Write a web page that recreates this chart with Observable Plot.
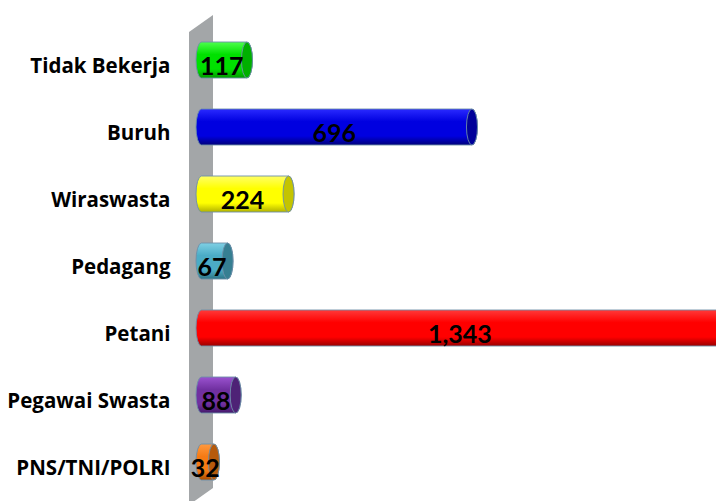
<!DOCTYPE html>
<html><head><meta charset="utf-8">
<script src="https://cdn.jsdelivr.net/npm/d3@7"></script>
<script src="https://cdn.jsdelivr.net/npm/@observablehq/plot@0.6"></script>
<style>html,body{margin:0;padding:0;background:#fff;overflow:hidden}</style>
</head><body><div id="chart"></div>
<script>
const categories = ["Tidak Bekerja","Buruh","Wiraswasta","Pedagang","Petani","Pegawai Swasta","PNS/TNI/POLRI"];
const values = [117, 696, 224, 67, 1343, 88, 32];
const topColors = ["#4dff4d","#2a2aff","#ffff66","#7fd0e4","#ff3a3a","#9a52cf","#ff9a40"];
const midColors = ["#00e000","#0000e0","#ffff00","#4bacc6","#ff0000","#7030a0","#f57a14"];
const bottomColors = ["#009a00","#00007a","#b3b300","#2c7486","#9a0000","#44196a","#a84c00"];
const capColors = ["#00b000","#000099","#c4c400","#367f92","#b00000","#4e2276","#b65a0c"];

const data = categories.map((c, i) => ({category: c, value: values[i], idx: i}));
const fmt = d3.format(",");

function decor(index, scales, values, dimensions) {
  const g = d3.create("svg:g");
  const defs = g.append("defs");
  categories.forEach((c, i) => {
    const lg = defs.append("linearGradient").attr("id", "grad" + i)
      .attr("x1", 0).attr("y1", 0).attr("x2", 0).attr("y2", 1);
    lg.append("stop").attr("offset", "0").attr("stop-color", topColors[i]);
    lg.append("stop").attr("offset", "0.35").attr("stop-color", midColors[i]);
    lg.append("stop").attr("offset", "0.75").attr("stop-color", midColors[i]);
    lg.append("stop").attr("offset", "1").attr("stop-color", bottomColors[i]);
  });
  const x0 = scales && scales.x ? scales.x(0) : dimensions.marginLeft;
  const l = x0 - 12.5, r = x0 + 11.5;
  g.append("polygon")
    .attr("points", `${l},32 ${r},15 ${r},488 ${l},505`)
    .attr("fill", "#a3a6a8");
  return g.node();
}

const plot = Plot.plot({
  width: 716, height: 501,
  marginLeft: 201.5, marginRight: 0, marginTop: 40, marginBottom: 18,
  x: {domain: [0, 1324], axis: null},
  y: {domain: categories, paddingInner: 0.46, paddingOuter: 0, axis: null},
  color: {type: "identity"},
  style: {fontFamily: "Lato, 'Open Sans', sans-serif", fontWeight: "bold", background: "#fff", overflow: "hidden"},
  marks: [
    decor,
    Plot.text(data, {y: "category", x: 0, dx: -31.5, dy: 6, textAnchor: "end", text: "category", fontSize: 20.5, fontWeight: "bold", fontFamily: "'Open Sans', sans-serif", fill: "#000"}),
    Plot.barX(data, {y: "category", x1: 0, x2: "value", insetLeft: -5.5, insetRight: -5.5, rx: 5.5, ry: 18.5,
      fill: d => `url(#grad${d.idx})`, stroke: "#6d8ea8", strokeWidth: 0.9}),
    Plot.barX(data, {y: "category", x1: "value", x2: "value", insetLeft: -5.5, insetRight: -5.5, rx: 5.5, ry: 18.5,
      fill: d => capColors[d.idx], stroke: "#6d8ea8", strokeWidth: 0.9}),
    Plot.text(data, {y: "category", x: d => d.value / 2, dx: -3, dy: 6, text: d => fmt(d.value), fontSize: 25, fontWeight: "bold", fill: "#000"})
  ]
});
document.getElementById("chart").append(plot);
</script>
</body></html>
